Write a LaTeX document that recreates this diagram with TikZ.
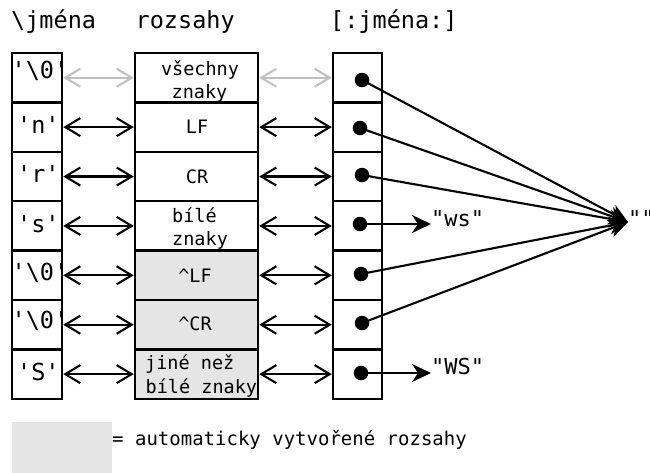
\documentclass[tikz,border=0pt]{standalone}
\usepackage{fontspec}
\setmonofont{DejaVu Sans Mono}
\usetikzlibrary{arrows.meta}
\definecolor{autofill}{HTML}{E5E5E5}
\definecolor{dimline}{HTML}{C0C0C0}

\begin{document}
\begin{tikzpicture}[x=1pt,y=-1pt,
  cell/.style={draw, line width=2.5pt, minimum height=49.4pt, inner sep=0pt},
  lcell/.style={cell, minimum width=50pt},
  mcell/.style={cell, minimum width=123pt},
  rcell/.style={cell, minimum width=49pt},
  hdr/.style={font=\ttfamily\fontsize{23.5}{28}\selectfont, inner sep=0pt, anchor=base west},
  key/.style={font=\ttfamily\fontsize{23.5}{28}\selectfont, inner sep=0pt, anchor=base west},
  rng/.style={font=\ttfamily\fontsize{18.5}{22}\selectfont, inner sep=0pt, anchor=base},
  rngl/.style={rng, anchor=base west},
  lab/.style={font=\ttfamily\fontsize{22}{26}\selectfont, inner sep=0pt, anchor=base west},
  note/.style={font=\ttfamily\fontsize{19}{22}\selectfont, inner sep=0pt, anchor=base west},
  biarrow/.style={line width=2.1pt,
    {Straight Barb[length=15pt,width=18pt]}-{Straight Barb[length=15pt,width=18pt]}},
  onearrow/.style={line width=2.1pt, -{Stealth[length=19pt,width=18pt,inset=6pt]}},
  dot/.style={circle, fill=black, minimum size=14.5pt, inner sep=0pt},
]
\useasboundingbox (0,0) rectangle (650,472);

% column headers
\node[hdr] (h1) at (11,28) {\textbackslash jména};
\node[hdr] (h2) at (135.5,28) {rozsahy};
\node[hdr] (h3) at (330,28) {[:jména:]};

% the three columns of cells
\foreach \i/\f in {1/white,2/white,3/white,4/white,5/autofill,6/autofill,7/autofill}{
  \node[lcell] (L\i) at (37,{53+49.4*(\i-0.5)}) {};
  \node[mcell, fill=\f] (M\i) at (196.5,{53+49.4*(\i-0.5)}) {};
  \node[rcell] (R\i) at (357.5,{53+49.4*(\i-0.5)}) {};
}

% names
\node[key] (k1) at (11.5,78) {'\textbackslash 0'};
\node[key] (k2) at (17,133) {'n'};
\node[key] (k3) at (17,182) {'r'};
\node[key] (k4) at (17,232) {'s'};
\node[key] (k5) at (11.5,280) {'\textbackslash 0'};
\node[key] (k6) at (11.5,328) {'\textbackslash 0'};
\node[key] (k7) at (17,380) {'S'};

% ranges
\node[rng] (r1a) at (200,75) {všechny};
\node[rng] (r1b) at (199.5,98) {znaky};
\node[rng] (r2) at (197,133) {LF};
\node[rng] (r3) at (197,183) {CR};
\node[rngl] (r4a) at (172,222) {bílé};
\node[rngl] (r4b) at (172,245) {znaky};
\node[rng] (r5) at (195,282) {\textasciicircum LF};
\node[rng] (r6) at (195,330) {\textasciicircum CR};
\node[rngl] (r7a) at (145,369.5) {jiné než};
\node[rngl] (r7b) at (145.5,393.5) {bílé znaky};

% links between names, ranges and classes
\draw[biarrow, dimline] (L1.east) -- (M1.west);
\draw[biarrow, dimline] (M1.east) -- (R1.west);
\foreach \i in {2,...,7}{
  \draw[biarrow] (L\i.east) -- (M\i.west);
  \draw[biarrow] (M\i.east) -- (R\i.west);
}

% class pointers
\foreach \i/\x/\y in {1/362/80,2/360/128,3/362/175,4/360/224,5/361/274,6/362/323,7/361/373}{
  \node[dot] (D\i) at (\x,\y) {};
}

\node[lab] (ws) at (431,226) {"ws"};
\node[lab] (WS) at (431,374) {"WS"};
\node[lab] (E) at (628,226) {""};
\coordinate (T) at (628,222);

\foreach \i in {1,2,3,5,6}{
  \draw[onearrow] (D\i.center) -- (T);
}
\draw[onearrow] (D4.center) -- (D4 -| ws.west);
\draw[onearrow] (D7.center) -- (D7 -| WS.west);

% legend
\node[fill=autofill, minimum width=100pt, minimum height=52pt, inner sep=0pt] (legend) at (62,448) {};
\node[note] (legtext) at (112,445) {= automaticky vytvořené rozsahy};
\end{tikzpicture}
\end{document}
